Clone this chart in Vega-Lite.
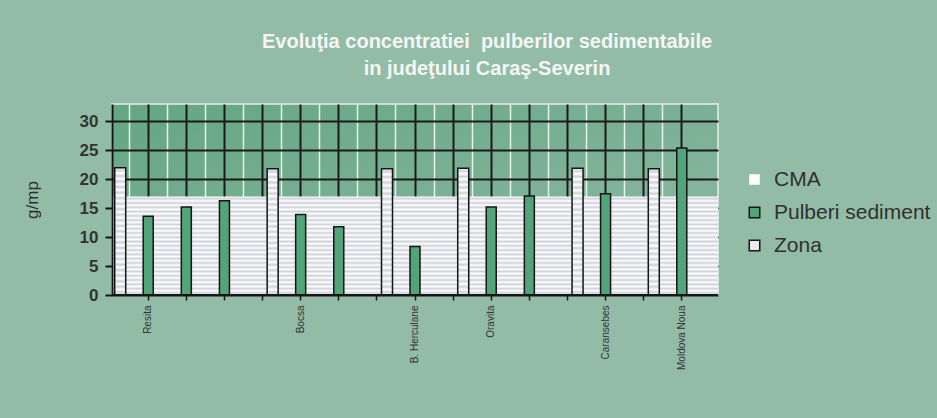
{
  "$schema": "https://vega.github.io/schema/vega-lite/v6.json",
  "width": 606,
  "height": 191,
  "autosize": "none",
  "padding": {"left": 112, "top": 104, "right": 219, "bottom": 123},
  "background": "#93bca7",
  "config": {
    "font": "Liberation Sans",
    "view": {
      "fill": {"gradient": "linear", "x1": 0, "y1": 0, "x2": 1, "y2": 1,
        "stops": [{"offset": 0, "color": "#64a683"}, {"offset": 1, "color": "#90bba4"}]},
      "stroke": "#e3efe7",
      "strokeWidth": 1.5
    }
  },
  "title": {
    "text": ["Evoluţia concentratiei\u00a0 pulberilor sedimentabile", "in judeţului Caraş-Severin"],
    "color": "#f4f7f4",
    "font": "Liberation Sans",
    "fontSize": 20,
    "fontWeight": "bold",
    "lineHeight": 27,
    "anchor": "middle",
    "frame": "group",
    "dx": 72,
    "offset": 25
  },
  "data": {
    "values": [
      {"loc": "Resita", "slot": 0, "series": "Zona", "value": 22.0},
      {"loc": "Resita", "slot": 0, "series": "Pulberi sediment", "value": 13.6},
      {"loc": "Resita", "slot": 1, "series": "Pulberi sediment", "value": 15.2},
      {"loc": "Resita", "slot": 2, "series": "Pulberi sediment", "value": 16.3},
      {"loc": "Bocsa", "slot": 4, "series": "Zona", "value": 21.8},
      {"loc": "Bocsa", "slot": 4, "series": "Pulberi sediment", "value": 13.9},
      {"loc": "Bocsa", "slot": 5, "series": "Pulberi sediment", "value": 11.8},
      {"loc": "B. Herculane", "slot": 7, "series": "Zona", "value": 21.8},
      {"loc": "B. Herculane", "slot": 7, "series": "Pulberi sediment", "value": 8.4},
      {"loc": "Oravita", "slot": 9, "series": "Zona", "value": 21.9},
      {"loc": "Oravita", "slot": 9, "series": "Pulberi sediment", "value": 15.2},
      {"loc": "Oravita", "slot": 10, "series": "Pulberi sediment", "value": 17.1},
      {"loc": "Caransebes", "slot": 12, "series": "Zona", "value": 21.9},
      {"loc": "Caransebes", "slot": 12, "series": "Pulberi sediment", "value": 17.5},
      {"loc": "Moldova Noua", "slot": 14, "series": "Zona", "value": 21.8},
      {"loc": "Moldova Noua", "slot": 14, "series": "Pulberi sediment", "value": 25.4},
      {"loc": "", "slot": null, "series": "CMA", "value": 17}
    ]
  },
  "layer": [
    {
      "transform": [{"filter": "datum.series === 'CMA'"}],
      "mark": {
        "type": "rect",
        "strokeWidth": 0,
        "fill": {"gradient": "linear", "x1": 0, "y1": 0, "x2": 0, "y2": 1,
          "stops": [
            {"offset": 0, "color": "#ffffff"}, {"offset": 0.0217, "color": "#d0d2da"},
            {"offset": 0.0435, "color": "#ffffff"}, {"offset": 0.0652, "color": "#d0d2da"},
            {"offset": 0.087, "color": "#ffffff"}, {"offset": 0.1087, "color": "#d0d2da"},
            {"offset": 0.1304, "color": "#ffffff"}, {"offset": 0.1522, "color": "#d0d2da"},
            {"offset": 0.1739, "color": "#ffffff"}, {"offset": 0.1957, "color": "#d0d2da"},
            {"offset": 0.2174, "color": "#ffffff"}, {"offset": 0.2391, "color": "#d0d2da"},
            {"offset": 0.2609, "color": "#ffffff"}, {"offset": 0.2826, "color": "#d0d2da"},
            {"offset": 0.3043, "color": "#ffffff"}, {"offset": 0.3261, "color": "#d0d2da"},
            {"offset": 0.3478, "color": "#ffffff"}, {"offset": 0.3696, "color": "#d0d2da"},
            {"offset": 0.3913, "color": "#ffffff"}, {"offset": 0.413, "color": "#d0d2da"},
            {"offset": 0.4348, "color": "#ffffff"}, {"offset": 0.4565, "color": "#d0d2da"},
            {"offset": 0.4783, "color": "#ffffff"}, {"offset": 0.5, "color": "#d0d2da"},
            {"offset": 0.5217, "color": "#ffffff"}, {"offset": 0.5435, "color": "#d0d2da"},
            {"offset": 0.5652, "color": "#ffffff"}, {"offset": 0.587, "color": "#d0d2da"},
            {"offset": 0.6087, "color": "#ffffff"}, {"offset": 0.6304, "color": "#d0d2da"},
            {"offset": 0.6522, "color": "#ffffff"}, {"offset": 0.6739, "color": "#d0d2da"},
            {"offset": 0.6957, "color": "#ffffff"}, {"offset": 0.7174, "color": "#d0d2da"},
            {"offset": 0.7391, "color": "#ffffff"}, {"offset": 0.7609, "color": "#d0d2da"},
            {"offset": 0.7826, "color": "#ffffff"}, {"offset": 0.8043, "color": "#d0d2da"},
            {"offset": 0.8261, "color": "#ffffff"}, {"offset": 0.8478, "color": "#d0d2da"},
            {"offset": 0.8696, "color": "#ffffff"}, {"offset": 0.8913, "color": "#d0d2da"},
            {"offset": 0.913, "color": "#ffffff"}, {"offset": 0.9348, "color": "#d0d2da"},
            {"offset": 0.9565, "color": "#ffffff"}, {"offset": 0.9783, "color": "#d0d2da"},
            {"offset": 1, "color": "#ffffff"}
          ]}
      },
      "encoding": {
        "y": {"field": "value", "type": "quantitative", "scale": {"domain": [0, 33], "nice": false}, "axis": null},
        "y2": {"datum": 0}
      }
    },
    {
      "transform": [{"filter": "datum.series === 'Zona'"}],
      "mark": {
        "type": "bar", "width": 11, "xOffset": -28, "stroke": "#161616", "strokeWidth": 1.5,
        "fill": {"gradient": "linear", "x1": 0, "y1": 0, "x2": 0, "y2": 1,
          "stops": [
            {"offset": 0, "color": "#ffffff"}, {"offset": 0.0217, "color": "#cfd1d9"},
            {"offset": 0.0435, "color": "#ffffff"}, {"offset": 0.0652, "color": "#cfd1d9"},
            {"offset": 0.087, "color": "#ffffff"}, {"offset": 0.1087, "color": "#cfd1d9"},
            {"offset": 0.1304, "color": "#ffffff"}, {"offset": 0.1522, "color": "#cfd1d9"},
            {"offset": 0.1739, "color": "#ffffff"}, {"offset": 0.1957, "color": "#cfd1d9"},
            {"offset": 0.2174, "color": "#ffffff"}, {"offset": 0.2391, "color": "#cfd1d9"},
            {"offset": 0.2609, "color": "#ffffff"}, {"offset": 0.2826, "color": "#cfd1d9"},
            {"offset": 0.3043, "color": "#ffffff"}, {"offset": 0.3261, "color": "#cfd1d9"},
            {"offset": 0.3478, "color": "#ffffff"}, {"offset": 0.3696, "color": "#cfd1d9"},
            {"offset": 0.3913, "color": "#ffffff"}, {"offset": 0.413, "color": "#cfd1d9"},
            {"offset": 0.4348, "color": "#ffffff"}, {"offset": 0.4565, "color": "#cfd1d9"},
            {"offset": 0.4783, "color": "#ffffff"}, {"offset": 0.5, "color": "#cfd1d9"},
            {"offset": 0.5217, "color": "#ffffff"}, {"offset": 0.5435, "color": "#cfd1d9"},
            {"offset": 0.5652, "color": "#ffffff"}, {"offset": 0.587, "color": "#cfd1d9"},
            {"offset": 0.6087, "color": "#ffffff"}, {"offset": 0.6304, "color": "#cfd1d9"},
            {"offset": 0.6522, "color": "#ffffff"}, {"offset": 0.6739, "color": "#cfd1d9"},
            {"offset": 0.6957, "color": "#ffffff"}, {"offset": 0.7174, "color": "#cfd1d9"},
            {"offset": 0.7391, "color": "#ffffff"}, {"offset": 0.7609, "color": "#cfd1d9"},
            {"offset": 0.7826, "color": "#ffffff"}, {"offset": 0.8043, "color": "#cfd1d9"},
            {"offset": 0.8261, "color": "#ffffff"}, {"offset": 0.8478, "color": "#cfd1d9"},
            {"offset": 0.8696, "color": "#ffffff"}, {"offset": 0.8913, "color": "#cfd1d9"},
            {"offset": 0.913, "color": "#ffffff"}, {"offset": 0.9348, "color": "#cfd1d9"},
            {"offset": 0.9565, "color": "#ffffff"}, {"offset": 0.9783, "color": "#cfd1d9"},
            {"offset": 1, "color": "#ffffff"}
          ]}
      },
      "encoding": {
        "x": {
          "field": "slot", "type": "ordinal",
          "scale": {"type": "band", "domain": [0, 1, 2, 3, 4, 5, 6, 7, 8, 9, 10, 11, 12, 13, 14], "paddingInner": 0, "paddingOuter": 0.45},
          "axis": {"orient": "top", "title": null, "labels": false, "ticks": false, "domain": false, "grid": true, "gridColor": "#e6f2ea", "gridWidth": 1.5, "bandPosition": 0, "zindex": 0}
        },
        "y": {
          "field": "value", "type": "quantitative", "scale": {"domain": [0, 33], "nice": false},
          "axis": {"orient": "right", "title": null, "labels": false, "ticks": false, "domain": false, "grid": true, "gridColor": "#1a1a1a", "gridWidth": 2, "values": [0, 5, 10, 15, 20, 25, 30], "zindex": 0}
        }
      }
    },
    {
      "transform": [{"filter": "datum.series === 'Pulberi sediment'"}],
      "mark": {"type": "bar", "width": 10, "stroke": "#161616", "strokeWidth": 1.5},
      "encoding": {
        "x": {
          "field": "slot", "type": "ordinal",
          "scale": {"type": "band", "domain": [0, 1, 2, 3, 4, 5, 6, 7, 8, 9, 10, 11, 12, 13, 14], "paddingInner": 0, "paddingOuter": 0.45},
          "axis": {
            "orient": "bottom", "title": null, "domain": false, "grid": true, "gridColor": "#1a1a1a", "gridWidth": 2, "bandPosition": 0.5,
            "ticks": true, "tickSize": 5, "tickColor": "#161616", "tickWidth": 1.5,
            "labelAngle": -90, "labelFontSize": 10, "labelColor": "#333333", "labelPadding": 5, "labelFont": "Liberation Sans",
            "labelExpr": "['Resita','','','','Bocsa','','','B. Herculane','','Oravita','','','Caransebes','','Moldova Noua'][datum.value]",
            "zindex": 0
          }
        },
        "y": {
          "field": "value", "type": "quantitative", "scale": {"domain": [0, 33], "nice": false},
          "axis": {
            "orient": "left", "values": [0, 5, 10, 15, 20, 25, 30], "grid": false,
            "title": "g/mp", "titleFont": "Liberation Sans", "titleFontSize": 17, "titleFontWeight": "normal", "titleColor": "#2e2e2e", "titlePadding": 38,
            "labelFont": "Liberation Sans", "labelFontSize": 17, "labelFontWeight": "bold", "labelColor": "#333333", "labelPadding": 7,
            "tickSize": 7, "tickColor": "#161616", "tickWidth": 2, "domainColor": "#161616", "domainWidth": 2, "zindex": 1
          }
        },
        "color": {
          "field": "series", "type": "nominal",
          "scale": {"domain": ["CMA", "Pulberi sediment", "Zona"], "range": ["#ffffff", "#52a578", "#e9e9ef"]},
          "legend": {
            "title": null, "orient": "none", "legendX": 632, "legendY": 65,
            "labelFont": "Liberation Sans", "labelFontSize": 21, "labelColor": "#303030", "labelOffset": 9,
            "symbolType": "square", "symbolSize": 110, "symbolStrokeColor": "#161616", "symbolStrokeWidth": 1.5, "symbolOpacity": 1,
            "rowPadding": 11,
            "encode": {"symbols": {"update": {"stroke": {"signal": "datum.value === 'CMA' ? 'transparent' : '#161616'"}}}}
          }
        }
      }
    },
    {
      "mark": {"type": "rule", "color": "#161616", "strokeWidth": 2},
      "encoding": {"y": {"datum": 0, "type": "quantitative", "scale": {"domain": [0, 33], "nice": false}, "axis": null}}
    }
  ],
  "resolve": {"axis": {"x": "independent", "y": "independent"}}
}
